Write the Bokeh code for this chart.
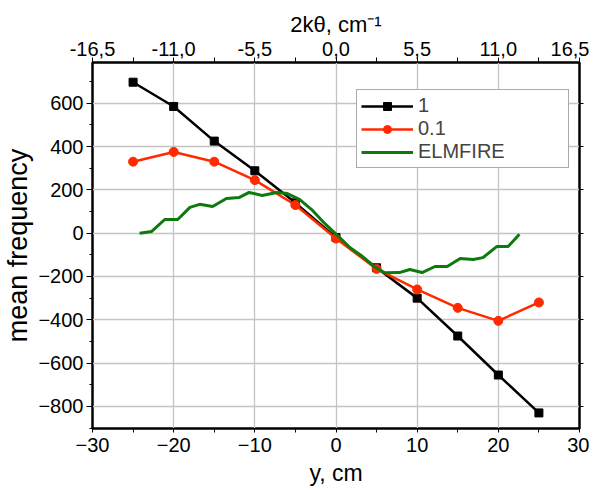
from bokeh.plotting import figure
from bokeh.models import (Range1d, LinearAxis, FixedTicker, CustomJSTickFormatter,
                          Legend, LegendItem)
from bokeh.embed import file_html
from bokeh.resources import INLINE

# ---- data ----
y_pos = [-25, -20, -15, -10, -5, 0, 5, 10, 15, 20, 25]
series_1 = [697, 585, 425, 288, 140, -20, -160, -300, -475, -655, -830]
series_01 = [330, 375, 330, 245, 130, -25, -165, -260, -345, -405, -320]

elm_x = [-24.2, -22.7, -21.1, -19.5, -18.0, -16.8, -15.2, -13.5, -11.9, -10.7,
         -9.1, -7.3, -6.0, -4.5, -3.0, -1.4, 0.2, 1.7, 3.1, 4.7, 6.0, 7.8,
         9.1, 10.6, 12.2, 13.7, 15.3, 16.9, 18.1, 19.8, 21.2, 22.6]
elm_y = [0, 8, 63, 63, 119, 133, 123, 160, 165, 188,
         174, 188, 183, 156, 109, 45, -11, -66, -103, -154, -183, -182,
         -168, -182, -154, -154, -117, -122, -113, -62, -62, -5]

x_ticks = [-30, -20, -10, 0, 10, 20, 30]
y_ticks = [-800, -600, -400, -200, 0, 200, 400, 600]
k_ticks = [-16.5, -11.0, -5.5, 0.0, 5.5, 11.0, 16.5]

FONT = "Liberation Sans"

p = figure(frame_width=487, frame_height=366, output_backend="svg", toolbar_location=None,
           x_range=Range1d(-30, 30), y_range=Range1d(-902, 788),
           min_border_left=85, min_border_right=10, min_border_top=62,
           min_border_bottom=50)
p.background_fill_color = "white"
p.border_fill_color = "white"
p.outline_line_color = "black"
p.outline_line_width = 2.5

# axes styling
for ax in (p.xaxis[0], p.yaxis[0]):
    ax.major_label_text_font = FONT
    ax.major_label_text_font_size = "20px"
    ax.major_label_text_color = "black"
    ax.axis_label_text_font = FONT
    ax.axis_label_text_font_style = "normal"
    ax.axis_label_text_color = "black"
    ax.axis_line_color = "black"
    ax.major_tick_line_color = "black"
    ax.minor_tick_line_color = "black"
    ax.major_tick_in = 0
    ax.minor_tick_in = 0

p.xaxis[0].ticker = FixedTicker(ticks=x_ticks, minor_ticks=[-25, -15, -5, 5, 15, 25])
p.yaxis[0].ticker = FixedTicker(ticks=y_ticks,
                                minor_ticks=[-900, -700, -500, -300, -100, 100, 300, 500, 700])
p.xaxis[0].axis_label = "y, cm"
p.xaxis[0].axis_label_text_font_size = "23px"
p.xaxis[0].axis_label_standoff = 5
p.xaxis[0].major_label_standoff = 5
p.xaxis[0].major_tick_out = 4
p.xaxis[0].minor_tick_out = 4
p.yaxis[0].axis_label = "mean frequency"
p.yaxis[0].axis_label_text_font_size = "27px"
p.yaxis[0].axis_label_standoff = 2
p.yaxis[0].major_label_standoff = 3
p.yaxis[0].major_tick_out = 6
p.yaxis[0].minor_tick_out = 3

# top axis
p.extra_x_ranges = {"k": Range1d(-16.5, 16.5)}
top = LinearAxis(x_range_name="k", axis_label="2kθ, cm⁻¹",
                 ticker=FixedTicker(ticks=k_ticks,
                                    minor_ticks=[-13.75, -8.25, -2.75, 2.75, 8.25, 13.75]),
                 formatter=CustomJSTickFormatter(code="return tick.toFixed(1).replace('.', ',');"))
top.major_label_text_font = FONT
top.major_label_text_font_size = "20px"
top.major_label_text_color = "black"
top.axis_label_text_font = FONT
top.axis_label_text_font_size = "22px"
top.axis_label_text_font_style = "normal"
top.axis_label_text_color = "black"
top.axis_label_standoff = 2
top.major_label_standoff = 2
top.axis_line_color = "black"
top.major_tick_in = 0
top.major_tick_out = 5
top.minor_tick_in = 0
top.minor_tick_out = 5
p.add_layout(top, "above")

# right axis: ticks only
right = LinearAxis(ticker=FixedTicker(ticks=y_ticks),
                   formatter=CustomJSTickFormatter(code="return '';"))
right.major_tick_in = 0
right.major_tick_out = 4
right.minor_tick_line_color = None
right.major_label_standoff = 0
right.axis_line_color = "black"
p.add_layout(right, "right")

# grid
p.xgrid[0].ticker = FixedTicker(ticks=x_ticks)
p.ygrid[0].ticker = FixedTicker(ticks=y_ticks)
for g in (p.xgrid[0], p.ygrid[0]):
    g.grid_line_color = "#c4c4c4"
    g.grid_line_width = 1.3

BLACK = "black"
RED = "#ff2a00"
GREEN = "#0c7a0c"

l1 = p.line(y_pos, series_1, line_color=BLACK, line_width=2.5)
m1 = p.scatter(y_pos, series_1, marker="square", size=8, fill_color=BLACK, line_color=BLACK)
l2 = p.line(y_pos, series_01, line_color=RED, line_width=2.5)
m2 = p.scatter(y_pos, series_01, marker="circle", size=9, fill_color=RED, line_color=RED)
l3 = p.line(elm_x, elm_y, line_color=GREEN, line_width=3)

legend = Legend(items=[LegendItem(label="1", renderers=[l1, m1]),
                       LegendItem(label="0.1", renderers=[l2, m2]),
                       LegendItem(label="ELMFIRE", renderers=[l3])],
                location=(264, 260))
legend.label_text_font = FONT
legend.label_text_font_size = "20px"
legend.glyph_width = 52
legend.glyph_height = 20
legend.label_height = 20
legend.label_width = 146
legend.label_standoff = 5
legend.spacing = 0
legend.padding = 4
legend.margin = 0
legend.border_line_color = "#555555"
legend.border_line_width = 1.2
legend.background_fill_alpha = 1
p.add_layout(legend, "center")

open("out.html", "w").write(file_html(p, INLINE))
